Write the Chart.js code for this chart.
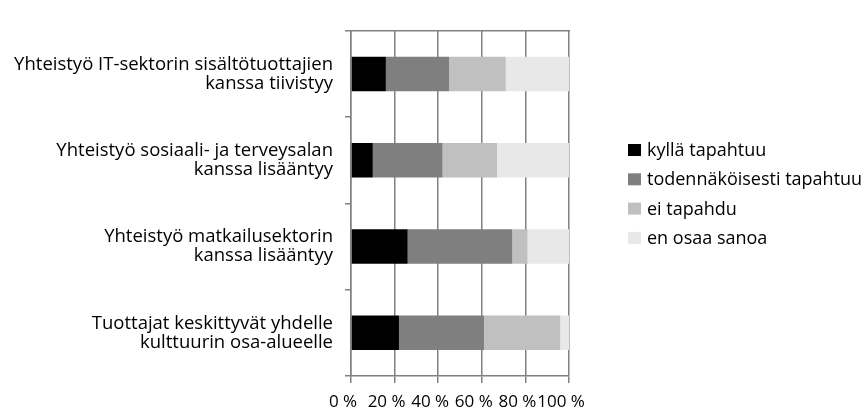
<!DOCTYPE html>
<html>
<head>
<meta charset="utf-8">
<script src="https://cdn.jsdelivr.net/npm/chart.js@4/dist/chart.umd.min.js"></script>
<style>
    html, body { margin: 0; padding: 0; background: #fff; }
    #wrap { width: 867px; height: 413px; position: relative; }
</style>
</head>
<body>
<div id="wrap"><canvas id="surveyChart"></canvas></div>
<script>
// categories (top to bottom)
const categories = [
    ['Yhteistyö IT-sektorin sisältötuottajien', 'kanssa tiivistyy'],
    ['Yhteistyö sosiaali- ja terveysalan', 'kanssa lisääntyy'],
    ['Yhteistyö matkailusektorin', 'kanssa lisääntyy'],
    ['Tuottajat keskittyvät yhdelle', 'kulttuurin osa-alueelle']
];
const seriesNames = ['kyllä tapahtuu', 'todennäköisesti tapahtuu', 'ei tapahdu', 'en osaa sanoa'];
const kyllaTapahtuu = [16, 10, 26, 22];
const todennakoisesti = [29, 32, 48, 39];
const eiTapahdu = [26, 25, 7, 35];
const enOsaaSanoa = [29, 33, 19, 4];
const xTicks = [0, 20, 40, 60, 80, 100];

const seriesColors = ['#000000', '#7f7f7f', '#c0c0c0', '#e8e8e8'];
const gridColor = '#808080';
const fontFamily = '"Open Sans", "DejaVu Sans", sans-serif';

document.addEventListener('DOMContentLoaded', function() {
    // simple legend drawn to the right of the plot
    const sideLegend = {
        id: 'sideLegend',
        afterDraw: function(chart) {
            const ctx = chart.ctx;
            ctx.save();
            ctx.font = '18px ' + fontFamily;
            ctx.textBaseline = 'middle';
            ctx.textAlign = 'left';
            chart.data.datasets.forEach(function(ds, i) {
                const y = 150 + i * 29.3;
                ctx.fillStyle = ds.backgroundColor;
                ctx.fillRect(628, y - 6, 13, 12);
                ctx.fillStyle = '#000';
                ctx.fillText(ds.label, 647, y + 1);
            });
            ctx.restore();
        }
    };

    const data = [kyllaTapahtuu, todennakoisesti, eiTapahdu, enOsaaSanoa];

    new Chart(document.getElementById('surveyChart').getContext('2d'), {
        type: 'bar',
        data: {
            labels: categories,
            datasets: seriesNames.map(function(name, i) {
                return {
                    label: name,
                    data: data[i],
                    backgroundColor: seriesColors[i],
                    borderWidth: 0,
                    barPercentage: 0.4,
                    categoryPercentage: 1.0
                };
            })
        },
        options: {
            indexAxis: 'y',
            responsive: true,
            maintainAspectRatio: false,
            animation: false,
            layout: {
                padding: { top: 12, right: 298, bottom: 0, left: 0 }
            },
            plugins: {
                legend: { display: false },
                tooltip: { enabled: false }
            },
            scales: {
                x: {
                    stacked: true,
                    min: 0,
                    max: 100,
                    afterBuildTicks: function(scale) {
                        scale.ticks = xTicks.map(function(v) { return { value: v }; });
                    },
                    afterFit: function(scale) { scale.height = 37; },
                    ticks: {
                        color: '#000',
                        padding: 9,
                        labelOffset: -8,
                        maxRotation: 0,
                        autoSkip: false,
                        font: { family: fontFamily, size: 17 },
                        callback: function(value) { return value + ' %'; }
                    },
                    grid: {
                        color: gridColor,
                        lineWidth: 1.5,
                        tickLength: 7
                    },
                    border: { color: gridColor, width: 1.5 }
                },
                x2: {
                    position: 'top',
                    min: 0,
                    max: 100,
                    afterFit: function(scale) { scale.height = 0; },
                    ticks: { display: false },
                    grid: { display: false, drawTicks: false },
                    border: { display: true, color: gridColor, width: 1.5 }
                },
                y: {
                    stacked: true,
                    afterFit: function(scale) { scale.width = 351; },
                    ticks: {
                        color: '#000',
                        padding: 12,
                        font: { family: fontFamily, size: 18.5, lineHeight: 1.02 }
                    },
                    grid: {
                        offset: true,
                        drawOnChartArea: false,
                        color: gridColor,
                        lineWidth: 1.5,
                        tickLength: 6
                    },
                    border: { color: gridColor, width: 1.5 }
                }
            }
        },
        plugins: [sideLegend]
    });
});
</script>
</body>
</html>
